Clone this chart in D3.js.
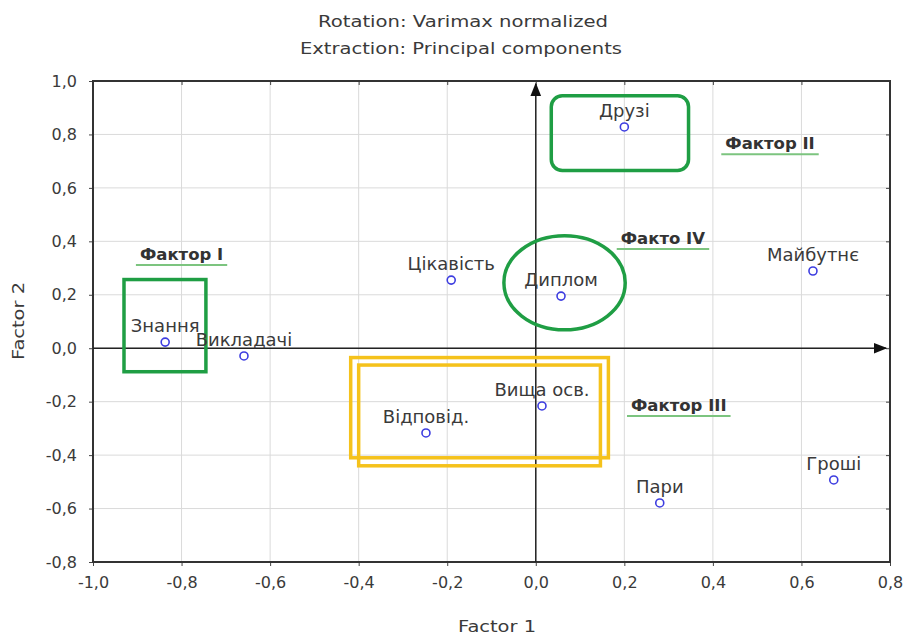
<!DOCTYPE html>
<html><head><meta charset="utf-8">
<script src="https://cdn.jsdelivr.net/npm/d3@7/dist/d3.min.js"></script>
<style>body{margin:0;background:#fff;} text{font-family:"DejaVu Sans",Verdana,sans-serif;}</style>
</head><body><svg id="c" width="917" height="635"></svg>
<script>
const labels = ["Друзі","Майбутнє","Цікавість","Диплом","Знання","Викладачі","Вища осв.","Відповід.","Пари","Гроші"];
const factor1 = [0.20, 0.626, -0.191, 0.057, -0.837, -0.659, 0.014, -0.248, 0.280, 0.673];
const factor2 = [0.828, 0.289, 0.255, 0.195, 0.023, -0.029, -0.216, -0.317, -0.579, -0.493];
const xTicks = [-1.0,-0.8,-0.6,-0.4,-0.2,0.0,0.2,0.4,0.6,0.8];
const yTicks = [-0.8,-0.6,-0.4,-0.2,0.0,0.2,0.4,0.6,0.8,1.0];
const factorNames = ["Фактор І","Фактор ІІ","Факто IV","Фактор ІІІ"];
const factorX = [-0.80, 0.529, 0.287, 0.323];
const factorY = [0.33, 0.745, 0.39, -0.235];

const svg = d3.select("#c");
const L=93,R=890,T=81,B=562;
const x = d3.scaleLinear().domain([-1,0.8]).range([L,R]);
const y = d3.scaleLinear().domain([-0.8,1.0]).range([B,T]);
const fmt = d => d3.format(".1f")(d).replace(".",",").replace("−","-");
const FONT = "'DejaVu Sans',Verdana,sans-serif";

// title
svg.append("text").attr("x",463).attr("y",27).attr("text-anchor","middle").attr("font-size",16).attr("fill","#3a3a3a")
 .attr("textLength",290).attr("lengthAdjust","spacingAndGlyphs").text("Rotation: Varimax normalized");
svg.append("text").attr("x",461).attr("y",54).attr("text-anchor","middle").attr("font-size",16).attr("fill","#3a3a3a")
 .attr("textLength",322).attr("lengthAdjust","spacingAndGlyphs").text("Extraction: Principal components");

// grid
const g = svg.append("g");
g.selectAll(".gx").data(xTicks.slice(1,-1)).enter().append("line")
 .attr("x1",d=>x(d)).attr("x2",d=>x(d)).attr("y1",T).attr("y2",B).attr("stroke","#dadada").attr("stroke-width",1);
g.selectAll(".gy").data(yTicks.slice(1,-1)).enter().append("line")
 .attr("y1",d=>y(d)).attr("y2",d=>y(d)).attr("x1",L).attr("x2",R).attr("stroke","#dadada").attr("stroke-width",1);

// axes (ticks + labels)
const xa = svg.append("g").attr("transform",`translate(0,${B})`).call(d3.axisBottom(x).tickValues(xTicks).tickFormat(fmt).tickSize(4).tickPadding(11));
const ya = svg.append("g").attr("transform",`translate(${L},0)`).call(d3.axisLeft(y).tickValues(yTicks).tickFormat(fmt).tickSize(4).tickPadding(12));
svg.append("g").attr("transform",`translate(0,${T})`).call(d3.axisTop(x).tickValues(xTicks).tickFormat("").tickSize(-4));
svg.append("g").attr("transform",`translate(${R},0)`).call(d3.axisRight(y).tickValues(yTicks).tickFormat("").tickSize(-4));
svg.selectAll(".domain").remove();
svg.selectAll(".tick line").attr("stroke","#444");
[xa,ya].forEach(a=>a.selectAll("text").attr("font-size",16).attr("fill","#3a3a3a").style("font-family",FONT));

// frame
svg.append("rect").attr("x",L).attr("y",T).attr("width",R-L).attr("height",B-T).attr("fill","none").attr("stroke","#333").attr("stroke-width",2);

// axis arrows
const defs = svg.append("defs");
defs.append("marker").attr("id","arr").attr("viewBox","0 0 10 10").attr("refX",9).attr("refY",5)
 .attr("markerWidth",9).attr("markerHeight",9).attr("orient","auto")
 .append("path").attr("d","M0,1 L10,5 L0,9 Z").attr("fill","#111");
svg.append("line").attr("x1",x(0)).attr("x2",x(0)).attr("y1",B).attr("y2",T+3).attr("stroke","#222").attr("stroke-width",1.5).attr("marker-end","url(#arr)");
svg.append("line").attr("x1",L).attr("x2",R-4).attr("y1",y(0)).attr("y2",y(0)).attr("stroke","#222").attr("stroke-width",1.5).attr("marker-end","url(#arr)");

// axis titles
svg.append("text").attr("x",497).attr("y",632).attr("text-anchor","middle").attr("font-size",16).attr("fill","#3a3a3a")
 .attr("textLength",78).attr("lengthAdjust","spacingAndGlyphs").text("Factor 1");
svg.append("text").attr("transform","translate(24,321) rotate(-90)").attr("text-anchor","middle").attr("font-size",16).attr("fill","#3a3a3a")
 .attr("textLength",78).attr("lengthAdjust","spacingAndGlyphs").text("Factor 2");

// annotations: green shapes
const green="#1f9e44";
svg.append("rect").attr("x",x(0.035)).attr("y",y(0.945)).attr("width",x(0.345)-x(0.035)).attr("height",y(0.665)-y(0.945)).attr("rx",11)
 .attr("fill","none").attr("stroke",green).attr("stroke-width",3.5);
svg.append("ellipse").attr("cx",x(0.065)).attr("cy",y(0.245)).attr("rx",x(0.137)-x(0)).attr("ry",y(0)-y(0.176))
 .attr("fill","none").attr("stroke",green).attr("stroke-width",3.5);
svg.append("rect").attr("x",x(-0.93)).attr("y",y(0.257)).attr("width",x(-0.745)-x(-0.93)).attr("height",y(-0.088)-y(0.257))
 .attr("fill","none").attr("stroke",green).attr("stroke-width",3.5);
// yellow double rectangle
const yel="#f5c21b";
svg.append("rect").attr("x",x(-0.418)).attr("y",y(-0.035)).attr("width",x(0.164)-x(-0.418)).attr("height",y(-0.41)-y(-0.035))
 .attr("fill","none").attr("stroke",yel).attr("stroke-width",3.5);
svg.append("rect").attr("x",x(-0.40)).attr("y",y(-0.063)).attr("width",x(0.146)-x(-0.40)).attr("height",y(-0.44)-y(-0.063))
 .attr("fill","none").attr("stroke",yel).attr("stroke-width",3.5);

// factor names with green underline
const fg = svg.selectAll(".fn").data(factorNames).enter().append("g");
fg.append("text").attr("x",(d,i)=>x(factorX[i])).attr("y",(d,i)=>y(factorY[i])).attr("text-anchor","middle")
 .attr("font-size",16.5).attr("font-weight","bold").attr("fill","#333").text(d=>d);
fg.each(function(d,i){
  const bb = d3.select(this).select("text").node().getBBox();
  d3.select(this).append("line").attr("x1",bb.x-4).attr("x2",bb.x+bb.width+4)
   .attr("y1",y(factorY[i])+5).attr("y2",y(factorY[i])+5).attr("stroke","#7cc47f").attr("stroke-width",2);
});

// points
svg.selectAll(".pt").data(labels).enter().append("circle")
 .attr("cx",(d,i)=>x(factor1[i])).attr("cy",(d,i)=>y(factor2[i])).attr("r",4)
 .attr("fill","#fff").attr("stroke","#3d3de0").attr("stroke-width",1.6);
svg.selectAll(".lb").data(labels).enter().append("text")
 .attr("x",(d,i)=>x(factor1[i])).attr("y",(d,i)=>y(factor2[i])-10).attr("text-anchor","middle")
 .attr("font-size",18).attr("fill","#3a3a3a").text(d=>d);
</script></body></html>
